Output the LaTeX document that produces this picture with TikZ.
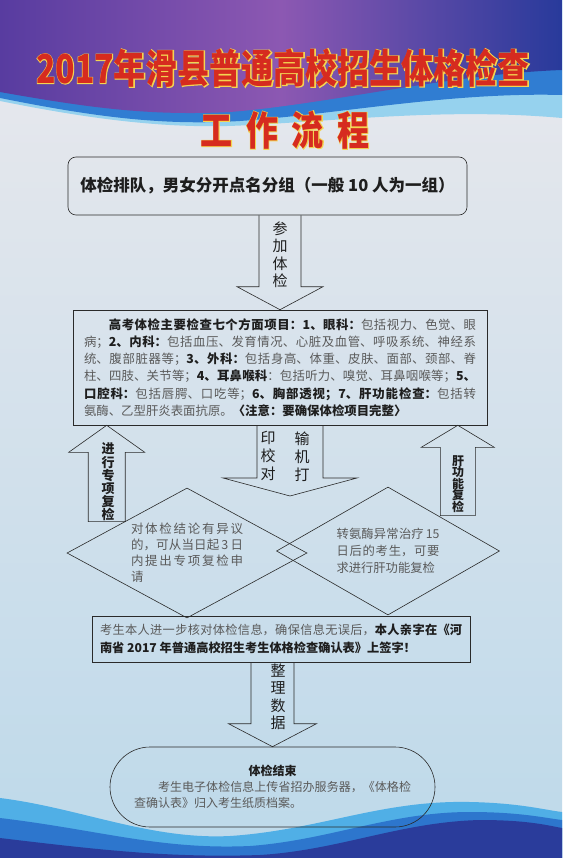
\documentclass[tikz,border=0pt]{standalone}
\usepackage{fontspec}
\setmainfont{Noto Sans CJK SC}
\newfontfamily\glowfont{Noto Sans CJK SC}[BoldFeatures={FakeBold=3.5}]
\usetikzlibrary{calc,shapes.geometric}
\XeTeXlinebreaklocale "zh"
\XeTeXlinebreakskip=0pt plus 2pt

\definecolor{titlered}{HTML}{D62B1F}
\definecolor{titleyel}{HTML}{F3D451}
\definecolor{linegray}{HTML}{2A2A2A}
\definecolor{darktxt}{HTML}{1E1E1E}
\definecolor{softtxt}{HTML}{5A5A5A}
\definecolor{bgtop}{HTML}{EAE9ED}
\definecolor{bgbot}{HTML}{BDD9EA}

\newcommand{\plaintxt}[1]{{\color{softtxt}#1}}
\newcommand{\titletxt}{2017年滑县普通高校招生体格检查}
\newcommand{\subtxt}{工\hspace{17pt}作\hspace{17pt}流\hspace{17pt}程}

% block arrows: #1 base, #2 tip, #3 half shaft, #4 half head, #5 head length
\newcommand{\blkdown}[5]{%
  \draw[blk] let \p1=(#1), \p2=(#2) in
    (\x2-#3,\y1) -- (\x2-#3,\y2+#5) -- (\x2-#4,\y2+#5) -- (\x2,\y2)
    -- (\x2+#4,\y2+#5) -- (\x2+#3,\y2+#5) -- (\x2+#3,\y1);}
\newcommand{\blkup}[5]{%
  \draw[blk] let \p1=(#1), \p2=(#2) in
    (\x2-#3,\y1) -- (\x2-#3,\y2-#5) -- (\x2-#4,\y2-#5) -- (\x2,\y2)
    -- (\x2+#4,\y2-#5) -- (\x2+#3,\y2-#5) -- (\x2+#3,\y1) -- cycle;}

\begin{document}
\begin{tikzpicture}[x=1pt,y=-1pt,line width=0.6pt,
  box/.style={draw=linegray,inner sep=0pt,text=darktxt},
  blk/.style={draw=linegray,line join=miter},
  vlabel/.style={align=center,inner sep=0pt,text=darktxt,font=\fontsize{15}{17.5}\selectfont},
  blabel/.style={align=center,inner sep=0pt,text=darktxt,font=\bfseries\fontsize{13}{13.2}\selectfont}]
\useasboundingbox (0,0) rectangle (562,858);

% poster background
\shade[top color=bgtop,bottom color=bgbot] (0,0) rectangle (562,858);
\fill[color={rgb,255:red,150;green,210;blue,238}] (0,0) -- (562,0) -- (562,118)
  .. controls (450,108) and (350,120) .. (250,125) .. controls (170,130) and (90,119) .. (0,101) -- cycle;
\fill[color={rgb,255:red,48;green,125;blue,210}] (0,0) -- (562,0) -- (562,95)
  .. controls (450,92) and (340,114) .. (240,121) .. controls (160,126) and (90,116) .. (0,98) -- cycle;
\shade[left color={rgb,255:red,88;green,60;blue,160},right color={rgb,255:red,40;green,58;blue,155},
  middle color={rgb,255:red,140;green,88;blue,178}] (0,0) -- (562,0) -- (562,70)
  .. controls (450,74) and (330,104) .. (230,112) .. controls (150,116) and (90,108) .. (0,92) -- cycle;

\fill[color={rgb,255:red,80;green,175;blue,230}] (0,798) .. controls (80,808) and (150,840) .. (230,836)
  .. controls (320,830) and (380,800) .. (470,802) .. controls (520,803) and (545,810) .. (562,812)
  -- (562,858) -- (0,858) -- cycle;
\fill[color={rgb,255:red,45;green,118;blue,205}] (0,818) .. controls (100,830) and (160,850) .. (250,846)
  .. controls (330,840) and (390,812) .. (470,812) .. controls (520,812) and (545,818) .. (562,820)
  -- (562,858) -- (0,858) -- cycle;
\fill[color={rgb,255:red,42;green,60;blue,155}] (0,838) .. controls (100,850) and (170,858) .. (260,855)
  .. controls (340,850) and (400,822) .. (480,820) .. controls (530,820) and (550,826) .. (562,828)
  -- (562,858) -- (0,858) -- cycle;

% title, yellow rim under red letters
\node[text=titleyel,inner sep=0pt] (titlerim) at (283,68)
  {\scalebox{0.8}[1]{\fontsize{40}{40}\glowfont\bfseries\titletxt}};
\node[text=titleyel,inner sep=0pt] (subtitlerim) at (285,130)
  {\scalebox{0.8}[1]{\fontsize{40}{40}\glowfont\bfseries\subtxt}};
\node[text=titlered,inner sep=0pt] (title) at (283,68)
  {\scalebox{0.8}[1]{\fontsize{40}{40}\bfseries\titletxt}};
\node[text=titlered,inner sep=0pt] (subtitle) at (285,130)
  {\scalebox{0.8}[1]{\fontsize{40}{40}\bfseries\subtxt}};

% steps
\node[box,rounded corners=8pt,minimum width=399,minimum height=58,
  font=\bfseries\fontsize{16.5}{20}\selectfont] (group) at (267.5,186)
  {体检排队，男女分开点名分组（一般 10 人为一组）};

\node[box,minimum width=414,minimum height=115,text width=392,align=justify,
  font=\fontsize{12.4}{17.3}\selectfont] (items) at (280,367.5)
  {\hspace*{2em}\textbf{高考体检主要检查七个方面项目：1、眼科：}\plaintxt{包括视力、色觉、眼}\linebreak
  \plaintxt{病；}\textbf{2、内科：}\plaintxt{包括血压、发育情况、心脏及血管、呼吸系统、神经系}\linebreak
  \plaintxt{统、腹部脏器等；}\textbf{3、外科：}\plaintxt{包括身高、体重、皮肤、面部、颈部、脊}\linebreak
  \plaintxt{柱、四肢、关节等；}\textbf{4、耳鼻喉科}\plaintxt{：包括听力、嗅觉、耳鼻咽喉等；}\textbf{5、}\linebreak
  \textbf{口腔科：}\plaintxt{包括唇腭、口吃等；}\textbf{6、胸部透视；7、肝功能检查：}\plaintxt{包括转}\linebreak
  \plaintxt{氨酶、乙型肝炎表面抗原。}\textbf{〈注意：要确保体检项目完整〉}};

\node[box,diamond,shape aspect=1.85,minimum width=240,minimum height=130,text width=112,
  align=justify,text=softtxt,font=\fontsize{12.5}{16}\selectfont] (appeal) at (187,553)
  {对体检结论有异议\linebreak 的，可从当日起\,3\,日\linebreak 内提出专项复检申\linebreak 请};

\node[box,diamond,shape aspect=1.74,minimum width=223,minimum height=128,text width=103,
  align=justify,text=softtxt,font=\fontsize{12.3}{17}\selectfont] (liver) at (388,551)
  {转氨酶异常治疗\,15\linebreak 日后的考生，可要\linebreak 求进行肝功能复检};

\node[box,minimum width=378,minimum height=46,text width=362,align=justify,
  font=\fontsize{12.2}{18}\selectfont] (sign) at (281,639)
  {\plaintxt{考生本人进一步核对体检信息，确保信息无误后，}\textbf{本人亲字在《河}\linebreak
  \textbf{南省 2017 年普通高校招生考生体格检查确认表》上签字！}};

\node[box,rounded corners=40pt,minimum width=325,minimum height=80,text width=277,align=justify,
  font=\fontsize{12}{16}\selectfont] (finish) at (272.5,787)
  {{\centering\textbf{体检结束}\par}
  \plaintxt{\hspace*{2em}考生电子体检信息上传省招办服务器，《体格检\linebreak 查确认表》归入考生纸质档案。}};

% connectors
\coordinate (print) at (290,496);
\coordinate (recheck) at ($(items.south west)+(34,0)$);
\coordinate (livertip) at ($(items.south east)+(-29.5,0)$);
\coordinate (appeal-up) at ($(appeal.north)!0.52!(appeal.west)$);
\coordinate (liver-up) at ($(liver.north)!0.45!(liver.east)$);

\blkdown{group.south}{items.north}{21pt}{43pt}{23pt}
\blkdown{items.south}{print}{33pt}{67pt}{18pt}
\blkup{appeal-up}{recheck}{18.5pt}{38pt}{27pt}
\blkup{liver-up}{livertip}{17.5pt}{36.5pt}{22pt}
\blkdown{sign.south}{finish.north}{21.5pt}{44pt}{23pt}

% arrow labels
\node[vlabel] (joinlbl) at (280,255) {参\\加\\体\\检};
\node[vlabel,font=\fontsize{15}{18}\selectfont] (printlbl) at (302,457) {输\\机\\打};
\node[vlabel,font=\fontsize{15}{18}\selectfont] (checklbl) at (268,456) {印\\校\\对};
\node[blabel] (recheklbl) at (108,482) {进\\行\\专\\项\\复\\检};
\node[blabel,font=\bfseries\fontsize{12}{11.6}\selectfont] (liverlbl) at (458,484) {肝\\功\\能\\复\\检};
\node[vlabel] (datalbl) at (278,697) {整\\理\\数\\据};
\end{tikzpicture}
\end{document}
